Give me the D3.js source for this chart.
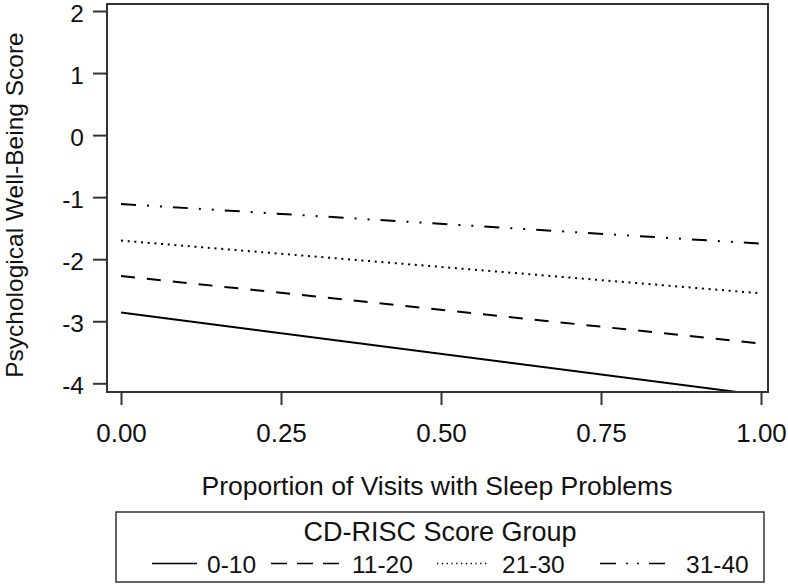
<!DOCTYPE html>
<html>
<head>
<meta charset="utf-8">
<script src="https://cdn.jsdelivr.net/npm/d3@7/dist/d3.min.js"></script>
<style>
  html, body { margin: 0; padding: 0; background: #fff; }
  svg { display: block; }
  text { font-family: "Liberation Sans", Arial, Helvetica, sans-serif; fill: #111; }
</style>
</head>
<body>
<svg id="chart" width="788" height="584"></svg>
<script>
// ---- data ----
const proportions = [0, 1];
const groups = ["0-10", "11-20", "21-30", "31-40"];
const values_0_10 = [-2.86, -4.19];
const values_11_20 = [-2.27, -3.36];
const values_21_30 = [-1.70, -2.55];
const values_31_40 = [-1.11, -1.75];
const xTicks = [0, 0.25, 0.5, 0.75, 1];
const xTickLabels = ["0.00", "0.25", "0.50", "0.75", "1.00"];
const yTicks = [-4, -3, -2, -1, 0, 1, 2];
const xTitle = "Proportion of Visits with Sleep Problems";
const yTitle = "Psychological Well-Being Score";
const legendTitle = "CD-RISC Score Group";

const seriesValues = [values_0_10, values_11_20, values_21_30, values_31_40];

// ---- styles ----
const dashes = [null, "14,12", "2,4.7", "15,11,2,11,2,11"];
const legendDashes = [null, "16,10", "1.3,3.5", "16,10,2,9,2,10"];
const xTickFont = 26;
const yTickFont = 24.5;
const titleFont = 26.5;
const yTitleFont = 24.5;
const legendTitleFont = 27;
const legendFont = 24.5;

const svg = d3.select("#chart");

const x = d3.scaleLinear().domain([0, 1]).range([121, 761]);
const y = d3.scaleLinear().domain([-4, 2]).range([383.3, 11]);

const frame = { x0: 107, y0: 4, x1: 768, y1: 392 };

// clip
svg.append("defs").append("clipPath").attr("id", "plotclip")
  .append("rect")
  .attr("x", frame.x0).attr("y", frame.y0)
  .attr("width", frame.x1 - frame.x0).attr("height", frame.y1 - frame.y0);

// lines
const line = d3.line()
  .x((d, i) => x(proportions[i]))
  .y(d => y(d));

const plot = svg.append("g").attr("clip-path", "url(#plotclip)");
seriesValues.forEach((vals, i) => {
  plot.append("path")
    .attr("d", line(vals))
    .attr("fill", "none")
    .attr("stroke", "#000")
    .attr("stroke-width", 2)
    .attr("stroke-dasharray", dashes[i]);
});

// frame
svg.append("rect")
  .attr("x", frame.x0).attr("y", frame.y0)
  .attr("width", frame.x1 - frame.x0).attr("height", frame.y1 - frame.y0)
  .attr("fill", "none").attr("stroke", "#333").attr("stroke-width", 2);

// x axis
const xAxis = d3.axisBottom(x).tickValues(xTicks)
  .tickFormat((d, i) => xTickLabels[i]).tickSize(13).tickSizeOuter(0);
const gx = svg.append("g").attr("transform", `translate(0,${frame.y1})`).call(xAxis);
gx.select(".domain").remove();
gx.selectAll(".tick line").attr("stroke", "#333").attr("stroke-width", 2);
gx.selectAll(".tick text").attr("y", 50).attr("dy", 0)
  .style("font-size", xTickFont + "px").attr("fill", "#111")
  .style("font-family", '"Liberation Sans", Arial, sans-serif');

// y axis
const yAxis = d3.axisLeft(y).tickValues(yTicks).tickFormat(d3.format("d")).tickSize(14).tickSizeOuter(0);
const gy = svg.append("g").attr("transform", `translate(${frame.x0},0)`).call(yAxis);
gy.select(".domain").remove();
gy.selectAll(".tick line").attr("stroke", "#333").attr("stroke-width", 2);
gy.selectAll(".tick text").attr("x", -23).attr("y", 10.5).attr("dy", 0)
  .style("font-size", yTickFont + "px").attr("fill", "#111")
  .style("font-family", '"Liberation Sans", Arial, sans-serif')
  .text(d => d < 0 ? "-" + Math.abs(d) : String(d));

// axis titles
svg.append("text")
  .attr("x", 437).attr("y", 495)
  .attr("text-anchor", "middle")
  .style("font-size", titleFont + "px")
  .text(xTitle);

svg.append("text")
  .attr("transform", "translate(22.5,205) rotate(-90)")
  .attr("text-anchor", "middle")
  .style("font-size", yTitleFont + "px")
  .text(yTitle);

// legend
const legend = { x0: 116, y0: 512, x1: 764, y1: 582 };
svg.append("rect")
  .attr("x", legend.x0).attr("y", legend.y0)
  .attr("width", legend.x1 - legend.x0).attr("height", legend.y1 - legend.y0)
  .attr("fill", "none").attr("stroke", "#333").attr("stroke-width", 1.5);

svg.append("text")
  .attr("x", (legend.x0 + legend.x1) / 2).attr("y", 541)
  .attr("text-anchor", "middle")
  .style("font-size", legendTitleFont + "px")
  .text(legendTitle);

const keyLayout = [
  { s0: 152, s1: 197, tx: 207 },
  { s0: 271, s1: 340, tx: 352 },
  { s0: 437, s1: 488, tx: 502 },
  { s0: 600, s1: 667, tx: 686 }
];
groups.forEach((g, i) => {
  const k = keyLayout[i];
  svg.append("line")
    .attr("x1", k.s0).attr("x2", k.s1)
    .attr("y1", 563.5).attr("y2", 563.5)
    .attr("stroke", "#000").attr("stroke-width", i === 2 ? 1.3 : 1.6)
    .attr("stroke-dasharray", legendDashes[i]);
  svg.append("text")
    .attr("x", k.tx).attr("y", 573)
    .style("font-size", legendFont + "px")
    .text(g);
});
</script>
</body>
</html>
